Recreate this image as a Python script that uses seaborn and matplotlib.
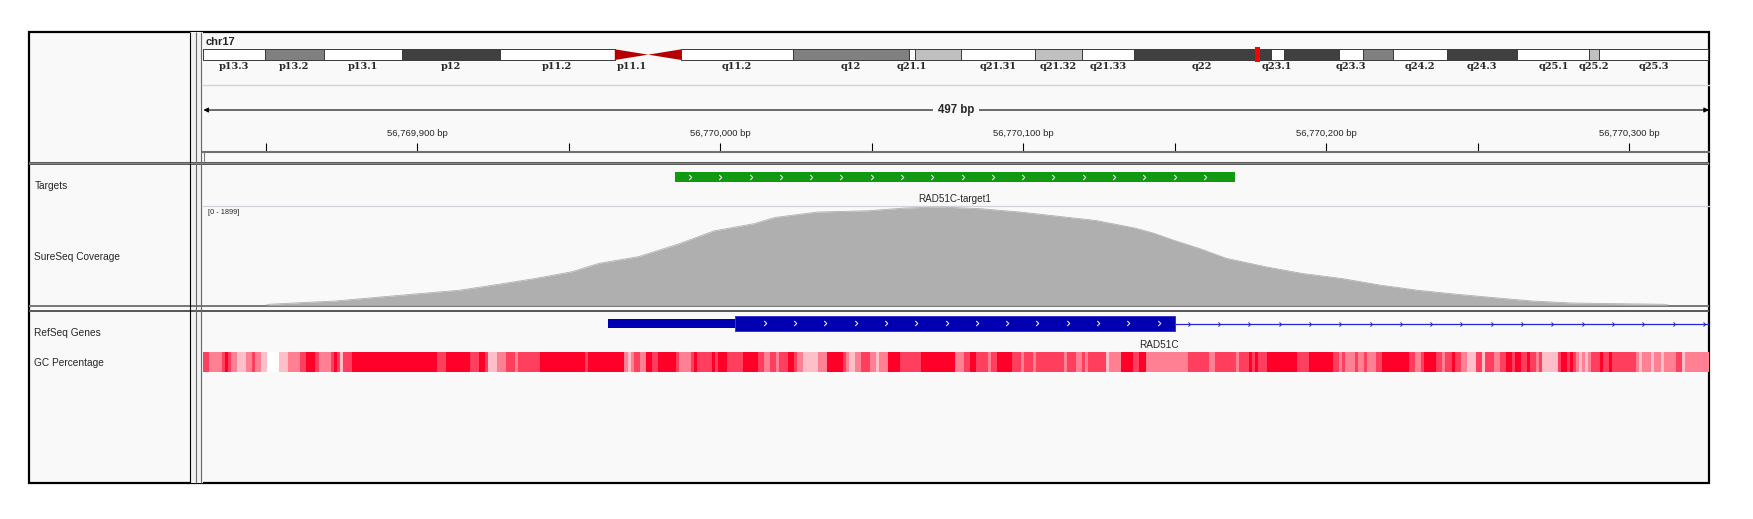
import numpy as np
import seaborn as sns
import matplotlib.pyplot as plt
from matplotlib.colors import LinearSegmentedColormap
from matplotlib.path import Path
from matplotlib.patches import Rectangle

# ---------------- data ----------------
chrom = "chr17"
chrom_len = 81195210
view_start = 56769829.4
view_end = 56770326.4

band_names = ["p13.3", "p13.2", "p13.1", "p12", "p11.2", "p11.1", "q11.1", "q11.2",
              "q12", "q21.1", "q21.2", "q21.31", "q21.32", "q21.33", "q22", "q23.1",
              "q23.2", "q23.3", "q24.1", "q24.2", "q24.3", "q25.1", "q25.2", "q25.3"]
band_starts = [0.0, 3.3, 6.5, 10.7, 16.0, 22.2, 24.0, 25.8, 31.8, 38.1, 38.4, 40.9,
               44.9, 47.4, 50.2, 57.6, 58.3, 61.3, 62.6, 64.2, 67.1, 70.9, 74.8, 75.3]
band_stains = ["gneg", "gpos50", "gneg", "gpos75", "gneg", "acen", "acen", "gneg",
               "gpos50", "gneg", "gpos25", "gneg", "gpos25", "gneg", "gpos75", "gneg",
               "gpos75", "gneg", "gpos50", "gneg", "gpos75", "gneg", "gpos25", "gneg"]
hidden_labels = {"q11.1", "q21.2", "q23.2", "q24.1"}

target_name = "RAD51C-target1"
target_start = 56769985
target_end = 56770170

cov_max = 1899
cov_pos = [56769850, 56769851, 56769862, 56769873, 56769888, 56769901, 56769914,
           56769925, 56769939, 56769951, 56769960, 56769973, 56769986, 56769998,
           56770011, 56770018, 56770032, 56770049, 56770061, 56770073, 56770086,
           56770099, 56770112, 56770124, 56770137, 56770143, 56770150, 56770158,
           56770167, 56770180, 56770192, 56770205, 56770218, 56770230, 56770243,
           56770255, 56770268, 56770281, 56770293, 56770312, 56770313]
cov_val = [0, 19, 52, 82, 159, 224, 288, 384, 512, 639, 800, 927, 1164, 1419,
           1554, 1674, 1778, 1803, 1855, 1874, 1841, 1778, 1694, 1617, 1471, 1375,
           1234, 1087, 896, 735, 608, 512, 384, 288, 211, 148, 82, 44, 33, 19, 0]

gene_name = "RAD51C"
gene_start = 56769963
cds_start = 56770005
cds_end = 56770150
gene_end = 56811703

# GC percentage, piecewise: start offset (bp from view start) and value
gc_starts = [0, 2, 6, 7, 8, 9, 11, 14, 16, 17, 19, 21, 25, 28, 32, 34, 37, 38, 42, 43,
             44, 45, 46, 49, 77, 80, 88, 91, 93, 94, 97, 100, 103, 104, 111, 126, 127,
             139, 140, 141, 142, 144, 146, 148, 150, 156, 157, 161, 162, 163,
             168, 169, 170, 173, 178, 183, 185, 187, 189, 190, 193, 195, 196, 198, 203,
             206, 211, 212, 213, 215, 217, 220, 222, 223, 226, 230, 237, 248, 251, 253,
             255, 259, 260, 262, 267, 270, 271, 274, 275, 284, 285, 288, 290, 291, 292,
             298, 299, 303, 307, 309, 311, 325,
             332, 334, 341, 342, 345, 346, 347, 348, 351, 361, 365, 373, 375, 376, 377,
             380, 381, 383, 384, 387, 389, 398, 400, 402, 403, 407, 409, 410, 412, 413,
             415, 417, 420, 422, 423, 426, 428, 430, 432, 433, 435, 437, 438, 440, 441,
             442, 447, 448, 450, 451, 452, 453, 454, 455, 456, 457, 458, 461, 462, 464,
             465, 473, 474, 475, 478, 479, 481, 482, 486, 488, 489]
gc_values = [65, 55, 65, 75, 65, 55, 45, 55, 65, 55, 45, 35, 45, 55, 65, 75, 65, 55, 65, 75,
             65, 45, 65, 75, 65, 75, 65, 75, 65, 45, 55, 65, 55, 65, 75, 65, 75,
             55, 45, 55, 65, 55, 75, 65, 75, 65, 55, 65, 75, 65,
             75, 65, 75, 65, 75, 65, 55, 65, 55, 65, 75, 65, 55, 45, 55,
             75, 65, 55, 45, 55, 65, 55, 45, 55, 75, 65, 75, 55, 65, 75,
             65, 55, 65, 75, 65, 55, 65, 55, 65, 55, 65, 55, 65, 55, 65,
             45, 55, 75, 65, 75, 55, 65,
             55, 65, 55, 65, 75, 65, 75, 65, 75, 65, 75, 65, 55, 65, 55,
             65, 55, 65, 55, 65, 75, 65, 55, 65, 75, 65, 55, 65, 75, 65,
             55, 45, 65, 45, 65, 55, 65, 75, 65, 75, 65, 75, 65, 55, 65,
             45, 65, 75, 65, 75, 65, 55, 45, 55, 45, 55, 65, 75, 65, 75,
             65, 55, 45, 55, 45, 55, 45, 55, 65, 45, 55]

# ---------------- styling ----------------
sns.set_style("white")
plt.rcParams["font.family"] = ["Liberation Sans", "DejaVu Sans"]

W, H = 1753, 519
X0, X1 = 203.4, 1709
BG = "#F9F9F9"
stain_colors = {"gneg": "white", "gpos25": "#C0C0C0", "gpos50": "#808080",
                "gpos75": "#404040", "acen": "#B40000"}


def box(x0, y0, x1, y1):
    return [x0 / W, 1 - y1 / H, (x1 - x0) / W, (y1 - y0) / H]


def chevron_marker():
    return Path([(-0.5, 1), (0.5, 0), (-0.5, -1)], [Path.MOVETO, Path.LINETO, Path.LINETO])


fig = plt.figure(figsize=(W / 100, H / 100), dpi=100)
fig.patch.set_facecolor("white")

# frame, panels, separators
bg = fig.add_axes([0, 0, 1, 1])
bg.set_xlim(0, W)
bg.set_ylim(H, 0)
bg.axis("off")
bg.add_patch(Rectangle((28.7, 32), 1709 - 28.7, 483 - 32, fc=BG, ec="black", lw=1.6))
bg.add_patch(Rectangle((190.4, 32), 13, 451, fc="#F2F2F2", ec="none"))
bg.vlines(190.4, 32, 483, color="black", lw=0.8)
bg.vlines([195.7, 201.5], 32, 483, color="#6A6A6A", lw=0.8)
bg.add_patch(Rectangle((28.7, 161.8), 1709 - 28.7, 3, fc="#5A5A5A", ec="none"))
bg.hlines(163.3, 28.7, 1709, color="#9A9A9A", lw=0.5)
bg.add_patch(Rectangle((28.7, 305.4), 1709 - 28.7, 1.8, fc="#7A7A7A", ec="none"))
bg.add_patch(Rectangle((28.7, 310.2), 1709 - 28.7, 1.8, fc="#5A5A5A", ec="none"))
bg.vlines(203.9, 151.7, 162, color="#808080", lw=0.8)

bg.text(205.7, 41.7, chrom, fontsize=8, fontweight="bold", va="center", ha="left")
for label, y in [("Targets", 186), ("SureSeq Coverage", 256.7),
                 ("RefSeq Genes", 332.7), ("GC Percentage", 362.7)]:
    bg.text(34.4, y, label, fontsize=7.3, va="center", ha="left")

# ideogram
ax_i = fig.add_axes(box(X0, 49.3, 1708, 60))
ax_i.set_xlim(0, chrom_len)
ax_i.set_ylim(0, 1)
ax_i.axis("off")
band_ends = band_starts[1:] + [chrom_len / 1e6]
for name, s, e, stain in zip(band_names, band_starts, band_ends, band_stains):
    s, e = s * 1e6, e * 1e6
    if stain == "acen":
        if name.startswith("p"):
            ax_i.fill([s, s, e], [0, 1, 0.5], color=stain_colors[stain], lw=0)
        else:
            ax_i.fill([s, e, e], [0.5, 1, 0], color=stain_colors[stain], lw=0)
    else:
        ax_i.broken_barh([(s, e - s)], (0, 1), facecolors=stain_colors[stain],
                         edgecolors="#3A3A3A", linewidth=0.7)
    if name not in hidden_labels:
        ax_i.text((s + e) / 2, -0.58, name, ha="center", va="center", fontsize=7,
                  fontweight="bold", family="DejaVu Serif", clip_on=False)
marker_w = max(view_end - view_start, 0.25e6)
ax_i.add_patch(Rectangle((view_start, -0.22), marker_w, 1.44, fc="red", ec="none",
                         clip_on=False, zorder=5))

# ruler
ax_r = fig.add_axes(box(X0, 85, X1, 151.7))
ax_r.set_facecolor("none")
ax_r.set_xlim(view_start, view_end)
ax_r.set_ylim(0, 1)
for side in ("left", "right"):
    ax_r.spines[side].set_visible(False)
ax_r.spines["top"].set_color("#D4D4D4")
ax_r.spines["top"].set_linewidth(1.0)
ax_r.spines["bottom"].set_color("#707070")
ax_r.spines["bottom"].set_linewidth(1.5)
ticks = np.arange(56769850, view_end, 50)
ax_r.set_xticks(ticks)
ax_r.tick_params(axis="x", bottom=True, top=False, direction="in", length=6.5,
                 width=0.8, color="black", labelbottom=False)
ax_r.set_yticks([])
for t in ticks:
    if t % 100 == 0:
        ax_r.text(t, 0.28, f"{int(t):,} bp", ha="center", va="center", fontsize=6.8)
arrow_y = 0.625
ax_r.annotate("", xy=(view_start, arrow_y), xytext=(view_end, arrow_y),
              arrowprops=dict(arrowstyle="<|-|>", color="black", lw=0.8,
                              shrinkA=0, shrinkB=0, mutation_scale=7))
ax_r.text((view_start + view_end) / 2, arrow_y, f"{round(view_end - view_start)} bp",
          ha="center", va="center", fontsize=8.3, fontweight="bold",
          bbox=dict(fc=BG, ec="none", pad=3.5))

# targets track
ax_t = fig.add_axes(box(X0, 165, X1, 205.7))
ax_t.set_facecolor("none")
ax_t.set_xlim(view_start, view_end)
ax_t.set_ylim(40.7, 0)
for side in ("left", "right", "top"):
    ax_t.spines[side].set_visible(False)
ax_t.spines["bottom"].set_color("#D2D2DA")
ax_t.spines["bottom"].set_linewidth(0.9)
ax_t.set_xticks([])
ax_t.set_yticks([])
ax_t.broken_barh([(target_start, target_end - target_start)], (6.7, 10),
                 facecolors="#119A11", edgecolors="none")
chev_t = np.arange(target_start + 5, target_end - 4, 10)
ax_t.plot(chev_t, np.full(len(chev_t), 11.7), ls="none", marker=chevron_marker(),
          ms=3.6, mfc="none", mec="white", mew=0.7)
ax_t.text((target_start + target_end) / 2, 34, target_name, ha="center", va="center",
          fontsize=7.1)

# coverage track
ax_c = fig.add_axes(box(X0, 205.7, X1, 305.3))
ax_c.set_facecolor("none")
ax_c.set_xlim(view_start, view_end)
ax_c.set_ylim(0, cov_max)
ax_c.fill_between(cov_pos, cov_val, color="#AFAFAF", lw=0)
sns.lineplot(x=cov_pos, y=cov_val, color="#AFAFAF", lw=0.6, ax=ax_c)
ax_c.axis("off")
ax_c.text(0.0033, 0.93, f"[0 - {cov_max}]", transform=ax_c.transAxes, fontsize=5.3,
          ha="left", va="center")

# gene track
ax_g = fig.add_axes(box(X0, 312, X1, 350))
ax_g.set_facecolor("none")
ax_g.set_xlim(view_start, view_end)
ax_g.set_ylim(38, 0)
ax_g.axis("off")
ax_g.hlines(12, cds_end, gene_end, color="#2626D2", lw=0.9)
ax_g.broken_barh([(gene_start, cds_start - gene_start)], (7, 8.7),
                 facecolors="#0000B2", edgecolors="none")
ax_g.broken_barh([(cds_start, cds_end - cds_start)], (4, 14.7),
                 facecolors="#0000B2", edgecolors="#2A2AC8", linewidth=0.6)
chev_g = np.arange(gene_start + 1.7, view_end, 10)
in_cds = chev_g[(chev_g > cds_start + 3) & (chev_g < cds_end - 3)]
in_intron = chev_g[chev_g > cds_end + 3]
ax_g.plot(in_cds, np.full(len(in_cds), 11.4), ls="none", marker=chevron_marker(),
          ms=3.6, mfc="none", mec="white", mew=0.7)
ax_g.plot(in_intron, np.full(len(in_intron), 12), ls="none", marker=chevron_marker(),
          ms=3.0, mfc="none", mec="#2626D2", mew=0.7)
label_x = (max(gene_start, view_start) + min(gene_end, view_end)) / 2
ax_g.text(label_x, 33.3, gene_name, ha="center", va="center", fontsize=7.2)

# GC percentage track
ax_gc = fig.add_axes(box(X0, 352, X1, 372))
gc_lengths = np.diff(gc_starts + [round(view_end - view_start)])
gc_per_bp = np.repeat(gc_values, gc_lengths)[None, :]
gc_cmap = LinearSegmentedColormap.from_list("gc", ["white", "#FF0028"])
sns.heatmap(gc_per_bp, cmap=gc_cmap, vmin=35, vmax=75, cbar=False,
            xticklabels=False, yticklabels=False, ax=ax_gc)
ax_gc.set_xlabel("")
ax_gc.set_ylabel("")

fig.savefig("out.png", dpi=100, facecolor="white")
